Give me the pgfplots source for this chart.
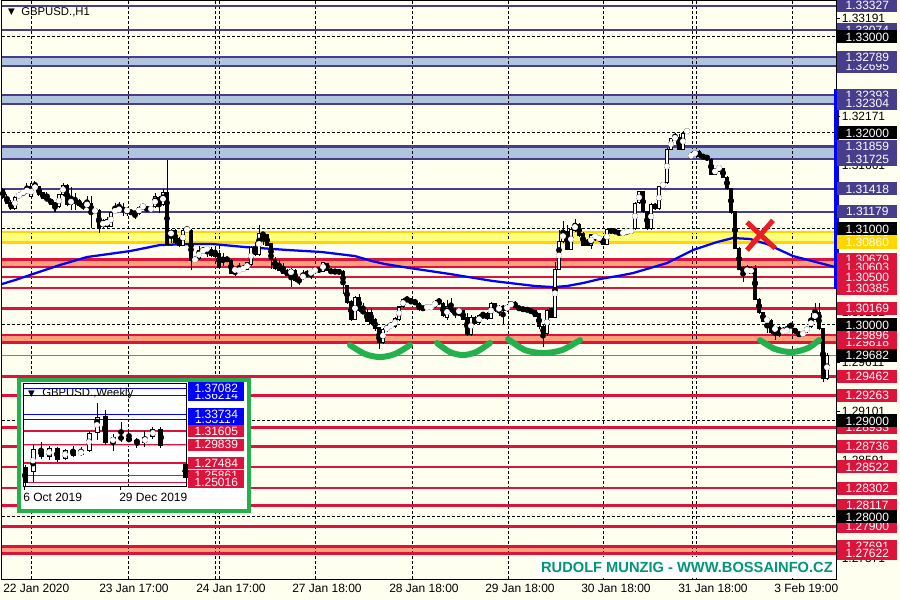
\documentclass[border=0pt]{standalone}
\usepackage{pgfplots}
\pgfplotsset{compat=1.18}
\usepackage{pgfplotstable}
\usepackage{fontspec}
\setmainfont{Liberation Sans}
\newfontfamily\dvs{DejaVu Sans}
\definecolor{bgc}{RGB}{255,255,240}
\definecolor{navyc}{RGB}{72,61,139}
\definecolor{zblue}{RGB}{176,196,222}
\definecolor{redc}{RGB}{220,20,60}
\definecolor{zsalmon}{RGB}{255,160,122}
\definecolor{goldc}{RGB}{255,215,0}
\definecolor{zyellow}{RGB}{255,255,128}
\definecolor{greenc}{RGB}{34,177,76}
\definecolor{xred}{RGB}{237,28,36}
\definecolor{wmc}{RGB}{0,150,120}
\newcommand{\lf}{\fontsize{9}{10}\selectfont}

\pgfplotstableread{
x o h l c
3 1.3141 1.3143 1.3131 1.3133
7 1.3133 1.3137 1.3126 1.3127
11 1.3128 1.3130 1.3120 1.3121
39 1.3144 1.3145 1.3134 1.3136
43 1.3138 1.3139 1.3131 1.3132
47 1.3133 1.3139 1.3129 1.3130
51 1.3131 1.3132 1.3125 1.3126
55 1.3127 1.3128 1.3118 1.3123
67 1.3146 1.3147 1.3124 1.3125
75 1.3131 1.3138 1.3120 1.3130
79 1.3130 1.3131 1.3123 1.3124
83 1.3126 1.3128 1.3120 1.3122
91 1.3127 1.3134 1.3101 1.3118
99 1.3120 1.3121 1.3096 1.3100
123 1.3121 1.3127 1.3114 1.3120
131 1.3119 1.3120 1.3115 1.3116
135 1.3118 1.3119 1.3110 1.3115
147 1.3123 1.3124 1.3118 1.3119
159 1.3133 1.3134 1.3117 1.3125
167 1.3138 1.3172 1.3083 1.3084
175 1.3099 1.3100 1.3084 1.3086
179 1.3090 1.3092 1.3081 1.3083
191 1.3099 1.3100 1.3057 1.3067
211 1.3079 1.3081 1.3071 1.3072
215 1.3078 1.3081 1.3070 1.3071
219 1.3075 1.3078 1.3058 1.3060
223 1.3069 1.3075 1.3062 1.3066
227 1.3069 1.3071 1.3066 1.3068
231 1.3067 1.3069 1.3053 1.3054
255 1.3081 1.3087 1.3072 1.3073
263 1.3096 1.3097 1.3083 1.3093
267 1.3094 1.3095 1.3082 1.3083
271 1.3085 1.3086 1.3058 1.3068
275 1.3068 1.3071 1.3057 1.3059
279 1.3063 1.3068 1.3056 1.3057
283 1.3059 1.3065 1.3053 1.3054
287 1.3057 1.3058 1.3051 1.3052
295 1.3057 1.3058 1.3045 1.3046
299 1.3048 1.3050 1.3042 1.3046
307 1.3054 1.3057 1.3050 1.3053
319 1.3058 1.3059 1.3056 1.3057
327 1.3064 1.3065 1.3056 1.3057
331 1.3058 1.3059 1.3053 1.3054
335 1.3056 1.3058 1.3054 1.3055
339 1.3056 1.3058 1.3053 1.3055
343 1.3056 1.3057 1.3032 1.3042
347 1.3041 1.3042 1.3022 1.3023
351 1.3025 1.3026 1.3004 1.3006
359 1.3029 1.3032 1.3014 1.3015
363 1.3015 1.3023 1.3012 1.3013
367 1.3013 1.3017 1.3003 1.3004
371 1.3013 1.3018 1.3000 1.3002
375 1.3006 1.3007 1.2994 1.2996
379 1.2997 1.2998 1.2975 1.2982
407 1.3027 1.3030 1.3024 1.3026
411 1.3025 1.3027 1.3023 1.3024
415 1.3025 1.3027 1.3021 1.3022
419 1.3023 1.3024 1.3015 1.3016
423 1.3019 1.3020 1.3015 1.3016
439 1.3025 1.3028 1.3022 1.3023
443 1.3023 1.3024 1.3008 1.3010
451 1.3019 1.3028 1.3013 1.3014
455 1.3016 1.3018 1.3007 1.3013
463 1.3015 1.3016 1.3005 1.3006
467 1.3008 1.3013 1.2989 1.2990
475 1.3008 1.3009 1.3001 1.3002
483 1.3010 1.3014 1.3008 1.3009
487 1.3012 1.3014 1.3005 1.3007
495 1.3022 1.3023 1.3014 1.3015
503 1.3020 1.3021 1.3001 1.3015
515 1.3022 1.3025 1.3018 1.3019
519 1.3019 1.3020 1.3015 1.3016
523 1.3017 1.3018 1.3015 1.3016
527 1.3017 1.3018 1.3014 1.3015
531 1.3016 1.3017 1.3012 1.3013
535 1.3015 1.3016 1.3008 1.3009
539 1.3012 1.3013 1.2996 1.2998
543 1.2999 1.3001 1.2977 1.2990
551 1.3017 1.3018 1.3007 1.3008
567 1.3098 1.3104 1.3078 1.3079
579 1.3105 1.3106 1.3092 1.3093
583 1.3096 1.3097 1.3082 1.3083
587 1.3088 1.3090 1.3082 1.3083
603 1.3090 1.3091 1.3083 1.3084
611 1.3100 1.3101 1.3095 1.3096
615 1.3099 1.3100 1.3095 1.3096
619 1.3098 1.3099 1.3093 1.3094
643 1.3139 1.3140 1.3117 1.3118
647 1.3118 1.3119 1.3099 1.3100
655 1.3126 1.3127 1.3120 1.3121
679 1.3196 1.3199 1.3182 1.3183
699 1.3181 1.3182 1.3174 1.3175
703 1.3176 1.3178 1.3173 1.3175
707 1.3176 1.3177 1.3171 1.3173
711 1.3173 1.3174 1.3156 1.3157
723 1.3163 1.3164 1.3153 1.3154
727 1.3154 1.3155 1.3141 1.3142
731 1.3142 1.3143 1.3116 1.3117
735 1.3118 1.3119 1.3079 1.3080
739 1.3080 1.3081 1.3057 1.3058
743 1.3060 1.3062 1.3045 1.3055
755 1.3059 1.3062 1.3026 1.3027
759 1.3027 1.3028 1.3012 1.3013
763 1.3013 1.3014 1.3003 1.3004
771 1.3005 1.3006 1.2991 1.2992
779 1.2998 1.2999 1.2988 1.2989
791 1.3000 1.3002 1.2997 1.2999
795 1.2996 1.2997 1.2991 1.2992
799 1.2992 1.2993 1.2988 1.2989
819 1.3013 1.3023 1.2995 1.2996
823 1.2996 1.2997 1.2941 1.2944
}\bear

\pgfplotstableread{
x o h l c
15 1.3121 1.3134 1.3120 1.3133
19 1.3133 1.3138 1.3132 1.3137
23 1.3136 1.3141 1.3134 1.3140
27 1.3138 1.3148 1.3137 1.3142
31 1.3134 1.3148 1.3133 1.3144
35 1.3143 1.3150 1.3142 1.3144
59 1.3123 1.3137 1.3122 1.3136
63 1.3136 1.3148 1.3134 1.3146
71 1.3125 1.3144 1.3120 1.3132
87 1.3123 1.3134 1.3122 1.3128
95 1.3118 1.3121 1.3117 1.3120
103 1.3102 1.3110 1.3101 1.3109
107 1.3103 1.3112 1.3100 1.3110
111 1.3103 1.3118 1.3102 1.3117
115 1.3117 1.3127 1.3116 1.3121
119 1.3120 1.3128 1.3119 1.3121
127 1.3119 1.3123 1.3114 1.3120
139 1.3116 1.3124 1.3115 1.3123
143 1.3123 1.3125 1.3122 1.3124
151 1.3119 1.3124 1.3118 1.3123
155 1.3123 1.3138 1.3122 1.3134
163 1.3125 1.3142 1.3124 1.3138
171 1.3092 1.3100 1.3085 1.3099
183 1.3083 1.3100 1.3082 1.3099
187 1.3099 1.3103 1.3097 1.3100
195 1.3067 1.3071 1.3066 1.3069
199 1.3069 1.3082 1.3068 1.3078
203 1.3076 1.3081 1.3075 1.3079
207 1.3079 1.3082 1.3071 1.3080
235 1.3057 1.3059 1.3051 1.3058
239 1.3056 1.3065 1.3054 1.3058
243 1.3058 1.3063 1.3055 1.3059
247 1.3058 1.3066 1.3057 1.3065
251 1.3063 1.3082 1.3062 1.3081
259 1.3073 1.3104 1.3072 1.3096
291 1.3052 1.3059 1.3040 1.3058
303 1.3048 1.3057 1.3047 1.3053
311 1.3053 1.3057 1.3048 1.3056
315 1.3056 1.3060 1.3055 1.3058
323 1.3056 1.3066 1.3055 1.3065
355 1.3006 1.3030 1.3005 1.3029
383 1.2982 1.2997 1.2980 1.2996
387 1.2994 1.3001 1.2993 1.2999
391 1.2999 1.3002 1.2998 1.3000
395 1.2998 1.3008 1.2997 1.3007
399 1.3006 1.3020 1.3004 1.3019
403 1.3019 1.3028 1.3018 1.3027
427 1.3017 1.3021 1.3016 1.3020
431 1.3017 1.3021 1.3016 1.3020
435 1.3019 1.3026 1.3018 1.3025
447 1.3008 1.3026 1.3005 1.3019
459 1.3014 1.3016 1.3009 1.3015
471 1.2990 1.3010 1.2989 1.3008
479 1.3002 1.3012 1.3001 1.3010
491 1.3007 1.3024 1.3006 1.3023
499 1.3015 1.3021 1.3009 1.3019
507 1.3015 1.3022 1.3014 1.3021
511 1.3021 1.3025 1.3019 1.3022
547 1.2991 1.3017 1.2989 1.3015
555 1.3008 1.3066 1.3007 1.3058
559 1.3058 1.3099 1.3057 1.3087
563 1.3087 1.3108 1.3085 1.3098
571 1.3079 1.3102 1.3078 1.3100
575 1.3098 1.3110 1.3097 1.3106
591 1.3083 1.3095 1.3079 1.3094
595 1.3092 1.3094 1.3088 1.3093
599 1.3090 1.3093 1.3087 1.3091
607 1.3084 1.3101 1.3083 1.3100
623 1.3094 1.3099 1.3093 1.3098
627 1.3097 1.3099 1.3095 1.3098
631 1.3096 1.3101 1.3095 1.3100
635 1.3100 1.3128 1.3099 1.3127
639 1.3127 1.3140 1.3126 1.3139
651 1.3100 1.3127 1.3099 1.3126
659 1.3121 1.3145 1.3120 1.3144
663 1.3144 1.3149 1.3143 1.3148
667 1.3148 1.3184 1.3147 1.3183
671 1.3183 1.3195 1.3182 1.3194
675 1.3194 1.3200 1.3193 1.3196
683 1.3183 1.3202 1.3182 1.3200
687 1.3200 1.3205 1.3199 1.3204
691 1.3176 1.3180 1.3173 1.3177
695 1.3177 1.3182 1.3176 1.3181
715 1.3157 1.3164 1.3156 1.3163
719 1.3163 1.3165 1.3160 1.3164
747 1.3055 1.3063 1.3054 1.3059
751 1.3054 1.3062 1.3053 1.3059
767 1.3005 1.3007 1.2992 1.3006
775 1.2994 1.2999 1.2984 1.2998
783 1.2993 1.2998 1.2991 1.2994
787 1.2993 1.3000 1.2992 1.2996
803 1.2989 1.2994 1.2988 1.2993
807 1.2993 1.2999 1.2992 1.2998
811 1.2998 1.3013 1.2997 1.3006
815 1.3006 1.3023 1.3005 1.3013
827 1.2944 1.2971 1.2943 1.2968
}\bull

\pgfplotstableread{
x o h l c
0 1.2697 1.2722 1.2440 1.2491
2 1.2928 1.3018 1.2800 1.2825
4 1.2941 1.2954 1.2761 1.2787
6 1.2915 1.2967 1.2825 1.2838
10 1.3352 1.3429 1.2979 1.3005
12 1.3082 1.3275 1.3018 1.3057
13 1.3069 1.3172 1.3018 1.3031
14 1.3044 1.3069 1.2941 1.3005
17 1.3185 1.3211 1.2941 1.2968
20.05 1.2735 1.2735 1.2555 1.2555
}\wbear

\pgfplotstableread{
x o h l c
1 1.2632 1.2979 1.2504 1.2928
3 1.2825 1.2967 1.2787 1.2941
5 1.2800 1.2928 1.2787 1.2915
7 1.2851 1.2954 1.2838 1.2915
8 1.2902 1.3159 1.2890 1.3134
9 1.3134 1.3519 1.3044 1.3339
11 1.3005 1.3121 1.2902 1.3082
15 1.3005 1.3159 1.2954 1.3082
16 1.3082 1.3211 1.3057 1.3185
}\wbull

\newcommand{\zone}[3]{\addplot[fill=#1, draw=none] coordinates {(2,#2) (836,#2) (836,#3) (2,#3)};}
\newcommand{\hl}[2]{\addplot[#1] coordinates {(2,#2) (836,#2)};}
\newcommand{\plab}[2]{\node[fill=#1, text=white, anchor=west, minimum width=45pt, minimum height=9.75pt, inner sep=0pt, font=\lf] at (axis cs:837,#2) {#2};}
\newcommand{\tlab}[1]{\draw[black, line width=0.6pt] (axis cs:836,#1) -- (axis cs:840,#1); \node[anchor=west, inner sep=0pt, font=\lf, text=black] at (axis cs:841.5,#1) {#1};}
\newcommand{\wlab}[2]{\node[fill=#1, text=white, anchor=west, minimum width=42pt, minimum height=9pt, inner sep=0pt, font=\lf] at (axis cs:20.375,#2) {#2};}

\begin{document}
\begin{tikzpicture}
\fill[bgc] (0,0) rectangle (675pt,450pt);
\begin{axis}[
  at={(1.5pt,15.75pt)}, anchor=south west,
  scale only axis, width=625.5pt, height=433.5pt,
  xmin=2, xmax=836, ymin=1.273541, ymax=1.333750,
  hide axis, clip=false,
  navyline/.style={navyc, line width=1.6pt},
  redline/.style={redc, line width=2pt},
  goldline/.style={goldc, line width=2pt},
  gridl/.style={black, line width=0.75pt, dash pattern=on 2.25pt off 1.5pt},
]
% zones
\zone{zblue}{1.32789}{1.32695}
\zone{zblue}{1.32393}{1.32304}
\zone{zblue}{1.31859}{1.31725}
\zone{zyellow}{1.30970}{1.30860}
\zone{zsalmon}{1.30679}{1.30603}
\zone{zsalmon}{1.29896}{1.29818}
\zone{zsalmon}{1.27691}{1.27622}
% grid
\pgfplotsinvokeforeach{32,128,215,219,315,412,508,603,692,696,792}{
  \addplot[gridl] coordinates {(#1,1.333750) (#1,1.273541)};
}
\pgfplotsinvokeforeach{1.33,1.32,1.31,1.30,1.29,1.28}{
  \addplot[gridl] coordinates {(2,#1) (836,#1)};
}
% lines
\pgfplotsinvokeforeach{1.33327,1.33074,1.32789,1.32695,1.32393,1.32304,1.31859,1.31725,1.31418,1.31179}{\hl{navyline}{#1}}
\hl{goldline}{1.30970}
\hl{goldline}{1.30860}
\pgfplotsinvokeforeach{1.30679,1.30603,1.30500,1.30385,1.30169,1.29896,1.29818,1.29462,1.29263,1.28933,1.28736,1.28522,1.28302,1.28117,1.27900,1.27691,1.27622}{\hl{redline}{#1}}
\addplot[gray, line width=0.75pt] coordinates {(2,1.29682) (836,1.29682)};
% moving average
\addplot[blue, line width=1.7pt] coordinates {
(2,1.30427) (15,1.30468) (33,1.30531) (60,1.30625) (87,1.30708) (130,1.30770)
(160,1.30833) (190,1.30843) (213,1.30843) (245,1.30812) (288,1.30781) (322,1.30760)
(355,1.30718) (372,1.30666) (385,1.30635) (410,1.30593) (450,1.30531) (493,1.30458)
(535,1.30406) (553,1.30395) (567,1.30406) (583,1.30437) (600,1.30479) (623,1.30520)
(633,1.30541) (667,1.30645) (693,1.30781) (717,1.30864) (733,1.30906) (750,1.30896)
(767,1.30843) (793,1.30718) (820,1.30645) (835,1.30604)};
% candles: wicks
\addplot[black, only marks, mark=none, error bars/.cd, y dir=both, y explicit, error mark=none,
  error bar style={line width=0.75pt, black}]
  table[x=x, y expr={(\thisrow{h}+\thisrow{l})/2}, y error expr={(\thisrow{h}-\thisrow{l})/2}] {\bear};
\addplot[black, only marks, mark=none, error bars/.cd, y dir=both, y explicit, error mark=none,
  error bar style={line width=0.75pt, black}]
  table[x=x, y expr={(\thisrow{h}+\thisrow{l})/2}, y error expr={(\thisrow{h}-\thisrow{l})/2}] {\bull};
% bodies
\addplot[black, only marks, mark=none, error bars/.cd, y dir=both, y explicit, error mark=none,
  error bar style={line width=2.4pt, black}]
  table[x=x, y expr={(\thisrow{o}+\thisrow{c})/2}, y error expr={abs(\thisrow{c}-\thisrow{o})/2+0.00004}] {\bear};
\addplot[black, only marks, mark=none, error bars/.cd, y dir=both, y explicit, error mark=none,
  error bar style={line width=2.4pt, black}]
  table[x=x, y expr={(\thisrow{o}+\thisrow{c})/2}, y error expr={abs(\thisrow{c}-\thisrow{o})/2+0.00004}] {\bull};
\addplot[white, only marks, mark=none, error bars/.cd, y dir=both, y explicit, error mark=none,
  error bar style={line width=0.8pt, white}]
  table[x=x, y expr={(\thisrow{o}+\thisrow{c})/2}, y error expr={max(abs(\thisrow{c}-\thisrow{o})/2-0.00007,0)}] {\bull};
% green arcs
\addplot[greenc, line width=4.5pt, smooth, line cap=round] coordinates {(350,1.29791) (365,1.29698) (380,1.29666) (395,1.29698) (410,1.29791)};
\addplot[greenc, line width=4.5pt, smooth, line cap=round] coordinates {(437,1.29812) (450,1.29718) (463,1.29687) (476,1.29718) (490,1.29812)};
\addplot[greenc, line width=4.5pt, smooth, line cap=round] coordinates {(508,1.29854) (525,1.29739) (543,1.29708) (562,1.29739) (580,1.29843)};
\addplot[greenc, line width=4.5pt, smooth, line cap=round] coordinates {(760,1.29843) (775,1.29750) (792,1.29718) (808,1.29760) (819,1.29843)};
% red X
\addplot[xred, line width=3.75pt] coordinates {(747,1.3107) (775,1.3080)};
\addplot[xred, line width=3.75pt] coordinates {(773,1.3109) (747,1.3078)};
% frame
\draw[black, line width=0.75pt] (rel axis cs:0,0) rectangle (rel axis cs:1,1);
% blue bar on price scale
\addplot[blue, line width=3.75pt] coordinates {(836.5,1.32458) (836.5,1.30375)};
% scale ticks
\tlab{1.33191}\tlab{1.32681}\tlab{1.32171}\tlab{1.31661}\tlab{1.31151}\tlab{1.30641}
\tlab{1.30131}\tlab{1.29611}\tlab{1.29101}\tlab{1.28591}\tlab{1.28081}\tlab{1.27571}
% labels
\plab{navyc}{1.33327}
\plab{navyc}{1.33074}
\plab{navyc}{1.32695}
\plab{navyc}{1.32789}
\plab{navyc}{1.32393}
\plab{navyc}{1.32304}
\plab{navyc}{1.31859}
\plab{navyc}{1.31725}
\plab{navyc}{1.31418}
\plab{navyc}{1.31179}
\plab{goldc}{1.30970}
\plab{goldc}{1.30860}
\plab{redc}{1.30679}
\plab{redc}{1.30603}
\plab{redc}{1.30500}
\plab{redc}{1.30385}
\plab{redc}{1.30169}
\plab{redc}{1.29818}
\plab{redc}{1.29896}
\plab{redc}{1.29462}
\plab{redc}{1.29263}
\plab{redc}{1.28933}
\plab{redc}{1.28736}
\plab{redc}{1.28522}
\plab{redc}{1.28302}
\plab{redc}{1.28117}
\plab{redc}{1.27900}
\plab{redc}{1.27691}
\plab{redc}{1.27622}
\plab{black}{1.33000}
\plab{black}{1.32000}
\plab{black}{1.31000}
\plab{black}{1.30000}
\plab{black}{1.29682}
\plab{black}{1.29000}
\plab{black}{1.28000}
% title
\node[anchor=center, inner sep=0pt, font=\dvs\fontsize{6.5}{7}\selectfont] at (axis cs:11.5,1.33260) {▼};
\node[anchor=west, inner sep=0pt, font=\fontsize{8.5}{10}\selectfont] at (axis cs:21,1.33260) {GBPUSD.,H1};
% time labels
\node[anchor=west, inner sep=0pt, font=\lf] at (axis cs:3,1.27260) {22 Jan 2020};
\node[anchor=west, inner sep=0pt, font=\lf] at (axis cs:99,1.27260) {23 Jan 17:00};
\node[anchor=west, inner sep=0pt, font=\lf] at (axis cs:196,1.27260) {24 Jan 17:00};
\node[anchor=west, inner sep=0pt, font=\lf] at (axis cs:292,1.27260) {27 Jan 18:00};
\node[anchor=west, inner sep=0pt, font=\lf] at (axis cs:389,1.27260) {28 Jan 18:00};
\node[anchor=west, inner sep=0pt, font=\lf] at (axis cs:485,1.27260) {29 Jan 18:00};
\node[anchor=west, inner sep=0pt, font=\lf] at (axis cs:581,1.27260) {30 Jan 18:00};
\node[anchor=west, inner sep=0pt, font=\lf] at (axis cs:678,1.27260) {31 Jan 18:00};
\node[anchor=west, inner sep=0pt, font=\lf] at (axis cs:774,1.27260) {3 Feb 19:00};
% watermark
\fill[white] (axis cs:535,1.27583) rectangle (axis cs:835.6,1.27360);
\node[anchor=east, inner sep=0pt, text=wmc, font=\fontsize{11}{12}\selectfont\bfseries] at (axis cs:833,1.27475) {RUDOLF MUNZIG - WWW.BOSSAINFO.CZ};
\end{axis}
% inset box
\filldraw[fill=white, draw=greenc, line width=3pt] (14.25pt,66.75pt) rectangle (186.75pt,165pt);
\begin{axis}[
  at={(17.25pt,84.75pt)}, anchor=south west,
  scale only axis, width=123pt, height=77.25pt,
  xmin=-0.25, xmax=20.25, ymin=1.24396, ymax=1.37635,
  hide axis, clip=false,
]
\addplot[black, line width=0.6pt, dash pattern=on 2.25pt off 1.5pt] coordinates {(12.875,1.24396) (12.875,1.37635)};
\pgfplotsinvokeforeach{1.37082,1.36214,1.33734,1.33117}{\addplot[blue, line width=0.75pt] coordinates {(-0.25,#1) (20.25,#1)};}
\pgfplotsinvokeforeach{1.31605,1.29839,1.27484,1.25861,1.25016}{\addplot[redc, line width=0.9pt] coordinates {(-0.25,#1) (20.25,#1)};}
\addplot[lightgray, line width=0.75pt] coordinates {(-0.25,1.29682) (20.25,1.29682)};
\addplot[black, only marks, mark=none, error bars/.cd, y dir=both, y explicit, error mark=none,
  error bar style={line width=0.75pt, black}]
  table[x=x, y expr={(\thisrow{h}+\thisrow{l})/2}, y error expr={(\thisrow{h}-\thisrow{l})/2}] {\wbear};
\addplot[black, only marks, mark=none, error bars/.cd, y dir=both, y explicit, error mark=none,
  error bar style={line width=0.75pt, black}]
  table[x=x, y expr={(\thisrow{h}+\thisrow{l})/2}, y error expr={(\thisrow{h}-\thisrow{l})/2}] {\wbull};
\addplot[black, only marks, mark=none, error bars/.cd, y dir=both, y explicit, error mark=none,
  error bar style={line width=3.75pt, black}]
  table[x=x, y expr={(\thisrow{o}+\thisrow{c})/2}, y error expr={abs(\thisrow{c}-\thisrow{o})/2}] {\wbear};
\addplot[black, only marks, mark=none, error bars/.cd, y dir=both, y explicit, error mark=none,
  error bar style={line width=3.75pt, black}]
  table[x=x, y expr={(\thisrow{o}+\thisrow{c})/2}, y error expr={abs(\thisrow{c}-\thisrow{o})/2}] {\wbull};
\addplot[white, only marks, mark=none, error bars/.cd, y dir=both, y explicit, error mark=none,
  error bar style={line width=2.25pt, white}]
  table[x=x, y expr={(\thisrow{o}+\thisrow{c})/2}, y error expr={max(abs(\thisrow{c}-\thisrow{o})/2-0.0013,0)}] {\wbull};
\draw[black, line width=0.75pt] (rel axis cs:0,0) rectangle (rel axis cs:1,1);
\node[anchor=center, inner sep=0pt, font=\dvs\fontsize{6.5}{7}\selectfont] at (axis cs:0.81,1.36349) {▼};
\node[anchor=west, inner sep=0pt, font=\fontsize{8.5}{10}\selectfont] at (axis cs:2.125,1.36349) {GBPUSD.,Weekly};
\wlab{blue}{1.36214}
\wlab{blue}{1.37082}
\wlab{blue}{1.33117}
\wlab{blue}{1.33734}
\wlab{redc}{1.31605}
\wlab{redc}{1.29839}
\wlab{redc}{1.27484}
\wlab{redc}{1.25861}
\wlab{redc}{1.25016}
\end{axis}
\draw[black, line width=0.6pt] (18pt,84.75pt) -- (18pt,82.5pt);
\draw[black, line width=0.6pt] (90pt,84.75pt) -- (90pt,82.5pt);
\node[anchor=west, inner sep=0pt, font=\lf] at (17.25pt,77.25pt) {6 Oct 2019};
\node[anchor=west, inner sep=0pt, font=\lf] at (89.25pt,77.25pt) {29 Dec 2019};
\pgfresetboundingbox
\path (0,0) rectangle (675pt,450pt);
\end{tikzpicture}
\end{document}
